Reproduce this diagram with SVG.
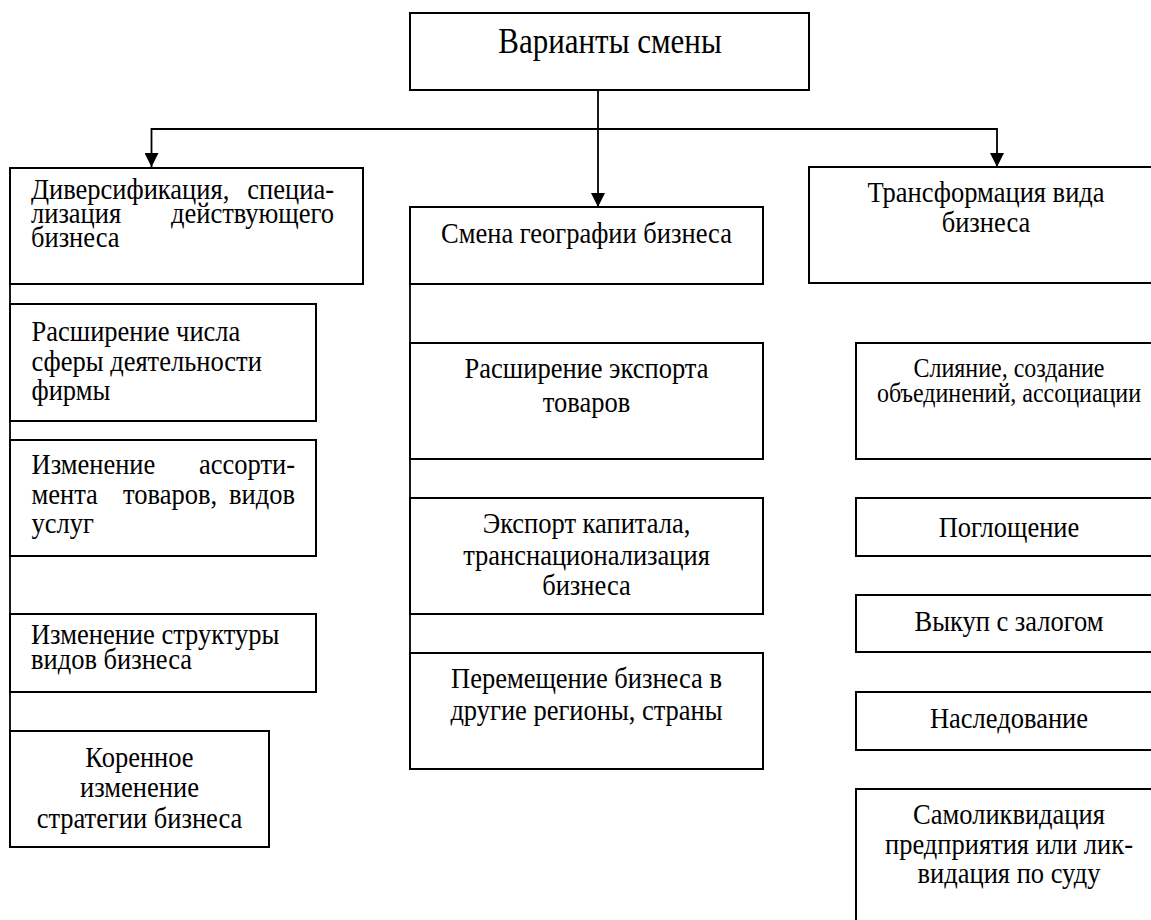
<svg xmlns="http://www.w3.org/2000/svg" width="1151" height="920" viewBox="0 0 1151 920">
<style>
.box{fill:#fff;stroke:#000;stroke-width:2}
.t{font-family:"Liberation Serif","Times New Roman",serif;font-size:26.5px;fill:#000}
.c{text-anchor:middle}
.e{text-anchor:end}
.ttl{font-size:31px}
.sm{font-size:24px}
.ln{fill:none;stroke:#000;stroke-width:1.8}
</style>
<defs>
<marker id="ah" markerUnits="userSpaceOnUse" markerWidth="14" markerHeight="14" refX="14" refY="7" orient="auto">
<path d="M0,0 L14,7 L0,14 z" fill="#000"/>
</marker>
</defs>
<rect width="1151" height="920" fill="#fff"/>
<g id="connectors">
<path class="ln" d="M598,90 V207" marker-end="url(#ah)"/>
<path class="ln" d="M598,129 H151.5 V167" marker-end="url(#ah)"/>
<path class="ln" d="M598,129 H997 V167" marker-end="url(#ah)"/>
<path class="ln" d="M10,284 V731"/>
<path class="ln" d="M410,284 V653"/>
</g>
<g id="root">
<rect class="box" x="410" y="13" width="399" height="77"/>
<g transform="scale(1 1.13)"><text class="t ttl c" x="610" y="46.9">Варианты смены</text></g>
</g>
<g id="left1">
<rect class="box" x="10" y="168" width="353" height="116"/>
<g transform="scale(1 1.13)">
<text class="t"><tspan x="31" y="176.1">Диверсификация,</tspan><tspan class="e" x="334" y="176.1">специа-</tspan><tspan x="31" y="197.4">лизация</tspan><tspan class="e" x="334" y="197.4">действующего</tspan><tspan x="31" y="218.6">бизнеса</tspan></text>
</g>
</g>
<g id="left2">
<rect class="box" x="10" y="304" width="306" height="117"/>
<g transform="scale(1 1.13)">
<text class="t"><tspan x="31.5" y="301.8">Расширение числа</tspan><tspan x="31.5" y="328.3">сферы деятельности</tspan><tspan x="31.5" y="354">фирмы</tspan></text>
</g>
</g>
<g id="left3">
<rect class="box" x="10" y="440" width="306" height="116"/>
<g transform="scale(1 1.13)">
<text class="t"><tspan x="31.5" y="419.5">Изменение</tspan><tspan class="e" x="295" y="419.5">ассорти-</tspan><tspan x="31.5" y="446">мента</tspan><tspan x="123" y="446">товаров,</tspan><tspan class="e" x="295" y="446">видов</tspan><tspan x="31.5" y="471.7">услуг</tspan></text>
</g>
</g>
<g id="left4">
<rect class="box" x="10" y="614" width="306" height="78"/>
<g transform="scale(1 1.13)">
<text class="t"><tspan x="31" y="569.9">Изменение структуры</tspan><tspan x="31" y="592">видов бизнеса</tspan></text>
</g>
</g>
<g id="left5">
<rect class="box" x="10" y="731" width="259" height="116"/>
<g transform="scale(1 1.13)">
<text class="t c"><tspan x="139.5" y="678.8">Коренное</tspan><tspan x="139.5" y="705.3">изменение</tspan><tspan x="139.5" y="732.7">стратегии бизнеса</tspan></text>
</g>
</g>
<g id="center1">
<rect class="box" x="410" y="207" width="353" height="77"/>
<g transform="scale(1 1.13)"><text class="t c" x="586.5" y="215">Смена географии бизнеса</text></g>
</g>
<g id="center2">
<rect class="box" x="410" y="343" width="353" height="116"/>
<g transform="scale(1 1.13)">
<text class="t c"><tspan x="586.5" y="334.5">Расширение экспорта</tspan><tspan x="586.5" y="364.6">товаров</tspan></text>
</g>
</g>
<g id="center3">
<rect class="box" x="410" y="498" width="353" height="116"/>
<g transform="scale(1 1.13)">
<text class="t c"><tspan x="586.5" y="471.7">Экспорт капитала,</tspan><tspan x="586.5" y="500">транснационализация</tspan><tspan x="586.5" y="526.5">бизнеса</tspan></text>
</g>
</g>
<g id="center4">
<rect class="box" x="410" y="653" width="353" height="116"/>
<g transform="scale(1 1.13)">
<text class="t c"><tspan x="586.5" y="608.8">Перемещение бизнеса в</tspan><tspan x="586.5" y="637.2">другие регионы, страны</tspan></text>
</g>
</g>
<g id="right1">
<rect class="box" x="809" y="167" width="354" height="116"/>
<g transform="scale(1 1.13)">
<text class="t c"><tspan x="986" y="178.8">Трансформация вида</tspan><tspan x="986" y="205.3">бизнеса</tspan></text>
</g>
</g>
<g id="right2">
<rect class="box" x="856" y="343" width="306" height="116"/>
<g transform="scale(1 1.13)">
<text class="t sm c"><tspan x="1009" y="333.6">Слияние, создание</tspan><tspan x="1009" y="355.8">объединений, ассоциации</tspan></text>
</g>
</g>
<g id="right3">
<rect class="box" x="856" y="498" width="306" height="58"/>
<g transform="scale(1 1.13)"><text class="t c" x="1009" y="475.2">Поглощение</text></g>
</g>
<g id="right4">
<rect class="box" x="856" y="595" width="306" height="57"/>
<g transform="scale(1 1.13)"><text class="t c" x="1009" y="558.4">Выкуп с залогом</text></g>
</g>
<g id="right5">
<rect class="box" x="856" y="692" width="306" height="58"/>
<g transform="scale(1 1.13)"><text class="t c" x="1009" y="644.2">Наследование</text></g>
</g>
<g id="right6">
<rect class="box" x="856" y="789" width="306" height="150"/>
<g transform="scale(1 1.13)">
<text class="t c"><tspan x="1009" y="729.2">Самоликвидация</tspan><tspan x="1009" y="755.8">предприятия или лик-</tspan><tspan x="1009" y="781.4">видация по  суду</tspan></text>
</g>
</g>
</svg>
